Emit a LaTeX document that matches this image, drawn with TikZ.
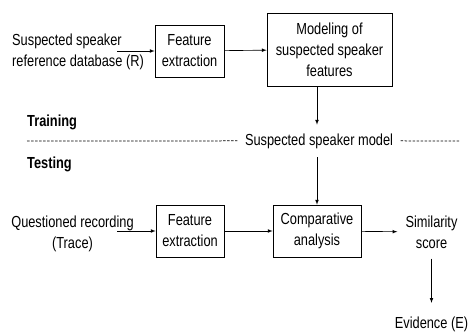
\documentclass[tikz,border=0pt]{standalone}
\usepackage{fontspec}
\setmainfont{Liberation Sans}[FakeStretch=0.8]
\usetikzlibrary{arrows}

\begin{document}
\begin{tikzpicture}
[x=1pt,y=-1pt,font=\fontsize{16}{21}\selectfont,
  blockdecorate/.style={shape=rectangle,draw,line width=0.7pt,align=center,inner sep=0pt},
  textdecorate/.style={align=center,inner sep=0pt},
  labeldecorate/.style={anchor=base west,inner sep=0pt,font=\fontsize{16}{21}\selectfont\bfseries},
  linedecorate/.style={-latex,line width=0.65pt},
  dashdecorate/.style={-,line width=0.75pt,dash pattern=on 2.5pt off 1.5pt}]
\useasboundingbox (0,0) rectangle (469,332);
%% blocks
\node (fe1) at (189.5,51) [blockdecorate,minimum width=69pt,minimum height=52pt] {Feature\\extraction};
\node (mod) at (329.5,49.5) [blockdecorate,minimum width=125pt,minimum height=73pt] {Modeling of\\suspected speaker\\features};
\node (fe2) at (190,231) [blockdecorate,minimum width=68pt,minimum height=52pt] {Feature\\extraction};
\node (cmp) at (317,231) [blockdecorate,minimum width=88pt,minimum height=52pt] {Comparative\\analysis};
%% plain texts
\node (ref) at (12,51.4) [textdecorate,anchor=west,align=left] {Suspected speaker\\reference database (R)};
\node (que) at (72.5,233.5) [textdecorate] {Questioned recording\\(Trace)};
\node (sim) at (431.5,232) [textdecorate,inner xsep=8pt,inner ysep=10pt] {Similarity\\score};
\node (evd) at (431.5,324.5) [textdecorate,inner sep=14pt] {Evidence (E)};
\node (spk) at (319,145) [textdecorate,anchor=base,inner xsep=7.5pt,inner ysep=8.5pt] {Suspected speaker model};
\node (trn) at (27,126.5) [labeldecorate] {Training};
\node (tst) at (27,168) [labeldecorate] {Testing};
%% free ends
\coordinate (rin) at (117,51);
\coordinate (qin) at (117,231);
\coordinate (dl) at (27,141);
\coordinate (dr) at (460,141);
%% arrows
\path
\foreach \startnode/\endnode in {rin/fe1, fe1/mod, qin/fe2, fe2/cmp, cmp/sim, sim/evd}
{
  (\startnode) edge[linedecorate] (\endnode)
};
\draw[linedecorate] (mod.south -| cmp.north) -- (spk.north -| cmp.north);
\draw[linedecorate] (spk.south -| cmp.north) -- (cmp.north);
%% training / testing border
\draw[dashdecorate] (dl) -- (spk.west);
\draw[dashdecorate] (spk.east) -- (dr);
\end{tikzpicture}
\end{document}
